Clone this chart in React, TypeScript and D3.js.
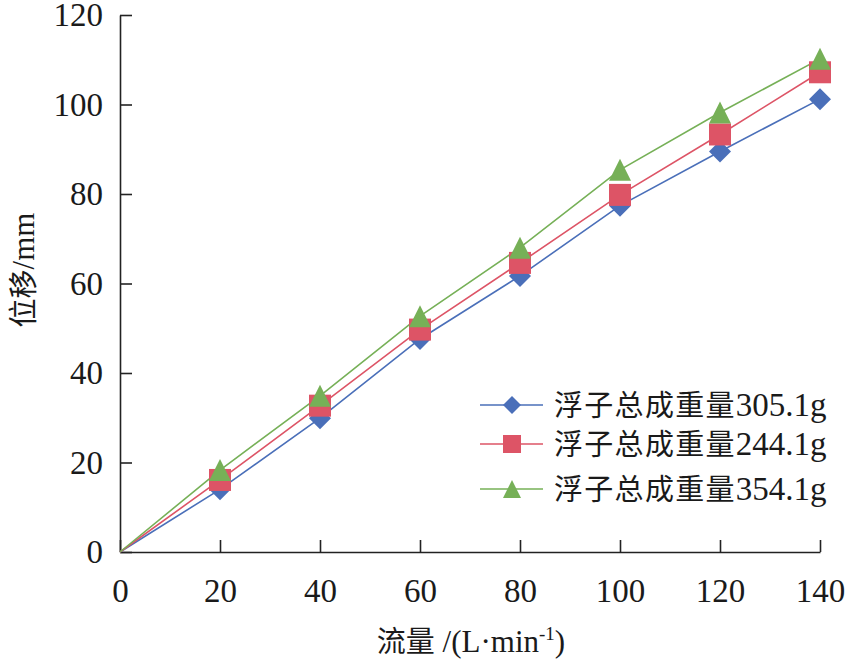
import React, { useEffect, useRef } from 'react';
import * as d3 from 'd3';

const flow = [0, 20, 40, 60, 80, 100, 120, 140];
const disp305 = [0, 14.0, 29.9, 47.6, 61.7, 77.4, 89.5, 101.2];
const disp244 = [0, 16.1, 32.7, 49.7, 64.6, 79.8, 93.3, 107.2];
const disp354 = [0, 18.3, 34.9, 52.7, 68.0, 85.4, 98.2, 110.2];
const xTicks = [0, 20, 40, 60, 80, 100, 120, 140];
const yTicks = [0, 20, 40, 60, 80, 100, 120];

const legendPrefix = '浮子总成重量';
const legendWeights = ['305.1g', '244.1g', '354.1g'];

const serif = '"Liberation Serif", serif';
const cjk = '"Noto Sans CJK SC", sans-serif';

// marker path centred on 0,0 with half size r
function markerPath(shape: string, r: number) {
  if (shape === 'diamond') return `M0,${-r}L${r},0L0,${r}L${-r},0Z`;
  if (shape === 'square') return `M${-r},${-r}H${r}V${r}H${-r}Z`;
  return `M0,${-r}L${r},${r}L${-r},${r}Z`;
}

const App = () => {
  const svgRef = useRef<SVGSVGElement | null>(null);

  useEffect(() => {
    if (!svgRef.current) return;
    const svg = d3.select(svgRef.current);
    svg.selectAll('*').remove();

    const x = d3.scaleLinear().domain([0, 140]).range([120, 820]);
    const y = d3.scaleLinear().domain([0, 120]).range([552, 15]);

    const series = [
      { weight: legendWeights[0], values: disp305, color: '#4a6fb9', shape: 'diamond' },
      { weight: legendWeights[1], values: disp244, color: '#dd5466', shape: 'square' },
      { weight: legendWeights[2], values: disp354, color: '#76b057', shape: 'triangle' },
    ];

    // axes
    const yAxis = svg.append('g')
      .attr('transform', `translate(${x(0)},0)`)
      .call(d3.axisLeft(y).tickValues(yTicks).tickSizeInner(-12).tickSizeOuter(0).tickPadding(17));
    const xAxis = svg.append('g')
      .attr('transform', `translate(0,${y(0)})`)
      .call(d3.axisBottom(x).tickValues(xTicks).tickSizeInner(-12).tickSizeOuter(0).tickPadding(27));

    [xAxis, yAxis].forEach(ax => {
      ax.select('.domain').attr('stroke', '#222').attr('stroke-width', 1.6);
      ax.selectAll('.tick line').attr('stroke', '#222').attr('stroke-width', 1.6);
      ax.selectAll('.tick text')
        .attr('fill', '#1a1a1a')
        .style('font-family', serif)
        .style('font-size', '33px');
    });

    // lines and markers
    series.forEach(s => {
      const pts = flow.map((f, i) => [f, s.values[i]] as [number, number]);
      const line = d3.line<[number, number]>().x(d => x(d[0])).y(d => y(d[1]));
      svg.append('path')
        .datum(pts)
        .attr('fill', 'none')
        .attr('stroke', s.color)
        .attr('stroke-width', 1.6)
        .attr('d', line);
    });
    series.forEach(s => {
      svg.append('g')
        .selectAll('path')
        .data(flow.slice(1).map((f, i) => [f, s.values[i + 1]]))
        .join('path')
        .attr('transform', d => `translate(${x(d[0])},${y(d[1])})`)
        .attr('d', markerPath(s.shape, 11))
        .attr('fill', s.color);
    });

    // legend
    const legend = svg.append('g');
    const rowY = [405, 444, 489];
    series.forEach((s, i) => {
      const g = legend.append('g').attr('transform', `translate(0,${rowY[i]})`);
      g.append('line')
        .attr('x1', 480).attr('x2', 543)
        .attr('stroke', s.color).attr('stroke-width', 1.6);
      g.append('path')
        .attr('transform', 'translate(512,0)')
        .attr('d', markerPath(s.shape, 9))
        .attr('fill', s.color);
      const t = g.append('text')
        .attr('x', 554)
        .attr('y', 11)
        .attr('fill', '#1a1a1a');
      t.append('tspan').style('font-family', cjk).style('font-size', '29px')
        .attr('letter-spacing', 1.3).text(legendPrefix);
      t.append('tspan').style('font-family', serif).style('font-size', '33px').text(s.weight);
    });

    // axis titles
    const xt = svg.append('text')
      .attr('x', 471)
      .attr('y', 652)
      .attr('text-anchor', 'middle')
      .attr('fill', '#1a1a1a')
      .style('font-size', '31px');
    xt.append('tspan').style('font-family', cjk).style('font-size', '29px').text('流量');
    xt.append('tspan').style('font-family', serif).text(' /(L·min');
    xt.append('tspan').style('font-family', serif).attr('dy', -12).style('font-size', '19px').text('-1');
    xt.append('tspan').style('font-family', serif).attr('dy', 12).text(')');

    const yt = svg.append('text')
      .attr('transform', 'translate(34,270) rotate(-90)')
      .attr('text-anchor', 'middle')
      .attr('fill', '#1a1a1a')
      .style('font-size', '29px');
    yt.append('tspan').style('font-family', cjk).text('位移');
    yt.append('tspan').style('font-family', serif).style('font-size', '31px').text('/mm');
  }, []);

  return (
    <svg
      ref={svgRef}
      width={847}
      height={659}
      style={{ position: 'absolute', left: 0, top: 0, background: '#fff' }}
    />
  );
};

export default App;
